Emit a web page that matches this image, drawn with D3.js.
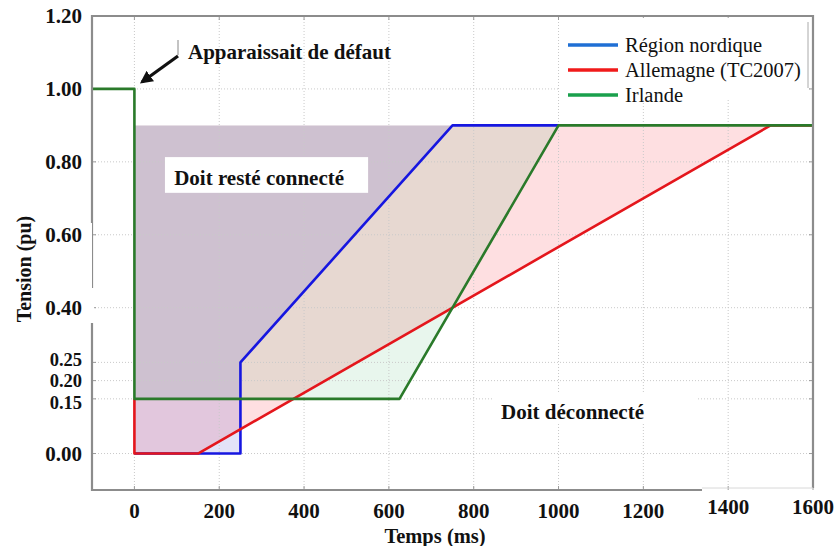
<!DOCTYPE html>
<html><head><meta charset="utf-8">
<script src="https://cdn.jsdelivr.net/npm/d3@7"></script>
<style>body{margin:0;background:#fff}svg{display:block}</style>
</head><body><svg id="c" width="834" height="546"></svg>
<script>
// ---- data ----
const seriesNames = ["Région nordique", "Allemagne (TC2007)", "Irlande"];
const timeNordic = [0, 250, 250, 750, 1000];
const voltNordic = [0, 0, 0.25, 0.9, 0.9];
const timeGermany = [0, 0, 150, 1500, 1600];
const voltGermany = [0.15, 0, 0, 0.9, 0.9];
const timeIreland = [-100, 0, 0, 625, 1000, 1600];
const voltIreland = [1.0, 1.0, 0.15, 0.15, 0.9, 0.9];
const xTicks = [0, 200, 400, 600, 800, 1000, 1200, 1400, 1600];
const yTicks = [0, 0.15, 0.2, 0.25, 0.4, 0.6, 0.8, 1.0, 1.2];
const zoneTop = 0.9;
const xTitle = "Temps (ms)";
const yTitle = "Tension (pu)";
const labelFault = "Apparaissait de défaut";
const labelStay = "Doit resté connecté";
const labelTrip = "Doit déconnecté";

// ---- setup ----
const svg = d3.select("#c");
const L = 92, R = 813, T = 16, B = 490;
const x = d3.scaleLinear().domain([-100, 1600]).range([L, R]);
const y = d3.scaleLinear().domain([-0.1, 1.2]).range([B, T]);
const serif = "'Liberation Serif','Times New Roman',serif";

const series = [
  {name: seriesNames[0], t: timeNordic, v: voltNordic, line: "#1616e0", leg: "#1f6fd4", fill: "rgba(40,40,200,0.13)"},
  {name: seriesNames[1], t: timeGermany, v: voltGermany, line: "#e4161c", leg: "#f01a1a", fill: "rgba(250,10,20,0.13)"},
  {name: seriesNames[2], t: timeIreland, v: voltIreland, line: "#2a7a2a", leg: "#1aa04c", fill: "rgba(0,150,60,0.09)"}
];
series.forEach(s => s.pts = s.t.map((t, i) => [t, s.v[i]]));

svg.append("rect").attr("width", 834).attr("height", 546).attr("fill", "#fff");

// ---- zone fills (red, green, blue) ----
const area = d3.area().x(d => x(d[0])).y0(y(zoneTop)).y1(d => y(Math.min(d[1], zoneTop)));
[series[1], series[2], series[0]].forEach(s => {
  svg.append("path").attr("d", area(s.pts.filter(p => p[0] >= 0))).attr("fill", s.fill);
});

// ---- grid ----
const grid = svg.append("g").attr("stroke", "#c9c9c9").attr("stroke-width", 1).attr("stroke-dasharray", "1,2");
xTicks.forEach(t => grid.append("line").attr("x1", x(t)).attr("x2", x(t)).attr("y1", T).attr("y2", B));
yTicks.forEach(v => grid.append("line").attr("x1", L).attr("x2", R).attr("y1", y(v)).attr("y2", y(v)));
const tk = svg.append("g").attr("stroke", "#9a9a9a").attr("stroke-width", 1);
xTicks.forEach(t => { tk.append("line").attr("x1", x(t)).attr("x2", x(t)).attr("y1", B).attr("y2", B - 4); tk.append("line").attr("x1", x(t)).attr("x2", x(t)).attr("y1", T).attr("y2", T + 4); });
yTicks.forEach(v => { tk.append("line").attr("x1", L).attr("x2", L + 4).attr("y1", y(v)).attr("y2", y(v)); tk.append("line").attr("x1", R).attr("x2", R - 4).attr("y1", y(v)).attr("y2", y(v)); });

// ---- white label boxes ----
svg.append("rect").attr("x", x(72)).attr("y", y(0.813)).attr("width", x(551) - x(72)).attr("height", y(0.715) - y(0.813)).attr("fill", "#fff");
svg.append("rect").attr("x", x(846)).attr("y", y(0.166)).attr("width", x(1327) - x(846)).attr("height", y(0.084) - y(0.166)).attr("fill", "#fff");
svg.append("rect").attr("x", 560).attr("y", 18).attr("width", 249).attr("height", 82).attr("fill", "#fff");
svg.append("line").attr("x1", 808).attr("x2", 808).attr("y1", 22).attr("y2", 88).attr("stroke", "#aaa").attr("stroke-width", 1);

// ---- lines ----
const line = d3.line().x(d => x(d[0])).y(d => y(d[1]));
series.forEach(s => {
  svg.append("path").attr("d", line(s.pts)).attr("fill", "none").attr("stroke", s.line).attr("stroke-width", 2.6).attr("stroke-linejoin", "round");
});

// ---- frame ----
const fr = svg.append("g").attr("stroke", "#8c8c8c").attr("stroke-width", 2.2).attr("fill", "none");
fr.append("line").attr("x1", L).attr("x2", R).attr("y1", T).attr("y2", T);
fr.append("line").attr("x1", L).attr("x2", L).attr("y1", T - 1).attr("y2", B + 1);
fr.append("line").attr("x1", R).attr("x2", R).attr("y1", T - 1).attr("y2", B - 2);
fr.append("line").attr("x1", L).attr("x2", 702).attr("y1", B).attr("y2", B);
svg.append("line").attr("x1", 702).attr("x2", R).attr("y1", B - 2).attr("y2", B - 2).attr("stroke", "#d8d8d8").attr("stroke-width", 1);
svg.append("rect").attr("x", 40).attr("y", 223).attr("width", 52).attr("height", 65).attr("fill", "#fff");
svg.append("rect").attr("x", 40).attr("y", 288).attr("width", 54).attr("height", 35).attr("fill", "#fff");

// ---- tick labels ----
const fmt = d3.format(".2f");
const crowded = [0.15, 0.2, 0.25];
const yShift = v => v === 0.25 ? -3 : v === 0.15 ? 4 : 0;
svg.append("g").selectAll("text").data(yTicks).join("text")
  .attr("x", 82).attr("y", d => y(d) + yShift(d)).attr("dy", "0.35em").attr("text-anchor", "end")
  .attr("font-family", serif).attr("font-weight", "bold").attr("font-size", d => crowded.includes(d) ? 18.5 : 21).attr("fill", "#111")
  .text(d => fmt(d));
svg.append("g").selectAll("text").data(xTicks).join("text")
  .attr("x", d => x(d)).attr("y", d => d >= 1400 ? 507 : 511).attr("dy", "0.35em").attr("text-anchor", "middle")
  .attr("font-family", serif).attr("font-weight", "bold").attr("font-size", 21).attr("fill", "#111")
  .text(d => d);

// ---- axis titles ----
svg.append("text").attr("x", 435).attr("y", 536).attr("dy", "0.35em").attr("text-anchor", "middle")
  .attr("font-family", serif).attr("font-weight", "bold").attr("font-size", 20.5).attr("fill", "#111").text(xTitle);
svg.append("text").attr("transform", "translate(24,269) rotate(-90)").attr("dy", "0.35em").attr("text-anchor", "middle")
  .attr("font-family", serif).attr("font-weight", "bold").attr("font-size", 20).attr("fill", "#111").text(yTitle);

// ---- annotations ----
svg.append("text").attr("x", x(294)).attr("y", y(0.758)).attr("dy", "0.35em").attr("text-anchor", "middle")
  .attr("font-family", serif).attr("font-weight", "bold").attr("font-size", 21).attr("fill", "#111").text(labelStay);
svg.append("text").attr("x", x(1033)).attr("y", y(0.115)).attr("dy", "0.35em").attr("text-anchor", "middle")
  .attr("font-family", serif).attr("font-weight", "bold").attr("font-size", 21).attr("fill", "#111").text(labelTrip);
svg.append("text").attr("x", 188).attr("y", 52).attr("dy", "0.35em")
  .attr("font-family", serif).attr("font-weight", "bold").attr("font-size", 21).attr("fill", "#111").text(labelFault);
svg.append("defs").append("marker").attr("id", "ah").attr("viewBox", "0 0 10 10").attr("refX", 8).attr("refY", 5)
  .attr("markerWidth", 4).attr("markerHeight", 4).attr("orient", "auto")
  .append("path").attr("d", "M0,0 L10,5 L0,10 z").attr("fill", "#111");
svg.append("line").attr("x1", 178).attr("y1", 56).attr("x2", 142).attr("y2", 82)
  .attr("stroke", "#111").attr("stroke-width", 3.2).attr("marker-end", "url(#ah)");
svg.append("line").attr("x1", 178).attr("x2", 178).attr("y1", 40).attr("y2", 55).attr("stroke", "#888").attr("stroke-width", 1);

// ---- legend ----
const lg = svg.append("g");
series.forEach((s, i) => {
  const yy = 45 + i * 25;
  lg.append("line").attr("x1", 568).attr("x2", 618).attr("y1", yy).attr("y2", yy).attr("stroke", s.leg).attr("stroke-width", 3.5);
  lg.append("text").attr("x", 625).attr("y", yy).attr("dy", "0.35em")
    .attr("font-family", serif).attr("font-size", 20.5).attr("fill", "#111").text(s.name);
});
</script></body></html>
